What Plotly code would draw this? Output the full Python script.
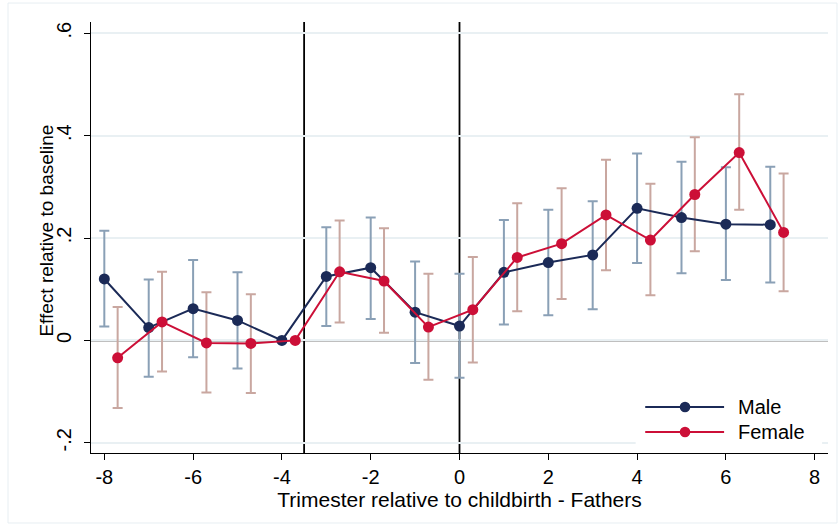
import plotly.graph_objects as go

# Event-study estimates by trimester relative to childbirth (fathers)
male_x = [-8, -7, -6, -5, -4, -3, -2, -1, 0, 1, 2, 3, 4, 5, 6, 7]
male_est = [0.120, 0.025, 0.062, 0.039, 0.0, 0.125, 0.142, 0.055, 0.028,
            0.133, 0.152, 0.167, 0.258, 0.240, 0.227, 0.226]
male_lo = [0.027, -0.071, -0.033, -0.055, None, 0.028, 0.042, -0.044, -0.073,
           0.031, 0.049, 0.061, 0.151, 0.131, 0.118, 0.113]
male_hi = [0.214, 0.119, 0.157, 0.133, None, 0.221, 0.240, 0.154, 0.130,
           0.235, 0.255, 0.272, 0.365, 0.349, 0.338, 0.339]

female_x = [-7.7, -6.7, -5.7, -4.7, -3.7, -2.7, -1.7, -0.7, 0.3,
            1.3, 2.3, 3.3, 4.3, 5.3, 6.3, 7.3]
female_est = [-0.034, 0.036, -0.005, -0.006, 0.0, 0.134, 0.116, 0.026, 0.060,
              0.162, 0.189, 0.245, 0.196, 0.285, 0.367, 0.211]
female_lo = [-0.132, -0.061, -0.102, -0.103, None, 0.035, 0.015, -0.077, -0.043,
             0.057, 0.081, 0.137, 0.088, 0.174, 0.255, 0.096]
female_hi = [0.065, 0.134, 0.094, 0.090, None, 0.234, 0.219, 0.130, 0.163,
             0.268, 0.297, 0.353, 0.306, 0.397, 0.481, 0.326]

x_ticks = [-8, -6, -4, -2, 0, 2, 4, 6, 8]
x_tick_text = ["-8", "-6", "-4", "-2", "0", "2", "4", "6", "8"]
y_ticks = [-0.2, 0, 0.2, 0.4, 0.6]
y_tick_text = ["-.2", "0", ".2", ".4", ".6"]
event_lines_x = [-3.5, 0]
series_names = ["Male", "Female"]
x_title = "Trimester relative to childbirth - Fathers"
y_title = "Effect relative to baseline"

MALE = "#1b2a57"
MALE_CI = "#8aa0b6"
FEMALE = "#cc0f37"
FEMALE_CI = "#c9a7a0"
FONT = "Liberation Sans, Arial, sans-serif"
TICK_SIZE = 20
X_TITLE_SIZE = 21
Y_TITLE_SIZE = 19


def err(est, lo, hi):
    plus = [None if h is None else h - e for e, h in zip(est, hi)]
    minus = [None if l is None else e - l for e, l in zip(est, lo)]
    return plus, minus


fig = go.Figure()

# confidence-interval caps first, so the connected estimates sit on top
for xs, est, lo, hi, col in [(male_x, male_est, male_lo, male_hi, MALE_CI),
                             (female_x, female_est, female_lo, female_hi, FEMALE_CI)]:
    plus, minus = err(est, lo, hi)
    fig.add_trace(go.Scatter(
        x=xs, y=est, mode="markers",
        marker=dict(size=1, opacity=0),
        error_y=dict(type="data", symmetric=False, array=plus, arrayminus=minus,
                     color=col, thickness=2, width=5),
        showlegend=False, hoverinfo="skip"))

for xs, est, col, name in [(male_x, male_est, MALE, series_names[0]),
                           (female_x, female_est, FEMALE, series_names[1])]:
    fig.add_trace(go.Scatter(
        x=xs, y=est, mode="lines+markers", name=name,
        line=dict(color=col, width=2),
        marker=dict(color=col, size=11),
        showlegend=False))

shapes = []
# reference lines: zero effect and event markers
shapes.append(dict(type="line", xref="paper", yref="y", x0=0, x1=1, y0=0, y1=0,
                   line=dict(color="black", width=1.6), layer="below"))
for xv in event_lines_x:
    shapes.append(dict(type="line", xref="x", yref="paper", x0=xv, x1=xv, y0=0, y1=1,
                       line=dict(color="black", width=1.8), layer="below"))

# faint outer frame of the graph region
shapes.append(dict(type="rect", xref="paper", yref="paper",
                   x0=-0.1126, x1=1.0122, y0=-0.1624, y1=1.044,
                   line=dict(color="#e7eef2", width=1), layer="below"))

# legend box drawn inside the plot area
shapes.append(dict(type="rect", xref="paper", yref="paper",
                   x0=0.739, x1=0.992, y0=0.015, y1=0.14,
                   fillcolor="white", line=dict(width=0), layer="above"))
annotations = []
for yy, col, name in [(0.1067, MALE, series_names[0]), (0.0487, FEMALE, series_names[1])]:
    shapes.append(dict(type="line", xref="paper", yref="paper",
                       x0=0.752, x1=0.859, y0=yy, y1=yy,
                       line=dict(color=col, width=2), layer="above"))
    shapes.append(dict(type="circle", xref="paper", yref="paper",
                       x0=0.806 - 0.0072, x1=0.806 + 0.0072,
                       y0=yy - 0.0123, y1=yy + 0.0123,
                       fillcolor=col, line=dict(color=col, width=0), layer="above"))
    annotations.append(dict(xref="paper", yref="paper", x=0.875, y=yy,
                            xanchor="left", yanchor="middle", showarrow=False,
                            text=name, font=dict(family=FONT, size=TICK_SIZE, color="black")))

# vertical axis title, set slightly above the plot's mid-height
annotations.append(dict(xref="paper", yref="paper", x=-0.0597, y=0.516,
                        xanchor="center", yanchor="middle", showarrow=False,
                        textangle=-90, text=y_title,
                        font=dict(family=FONT, size=Y_TITLE_SIZE, color="black")))

fig.update_layout(
    width=838, height=525,
    margin=dict(l=91, r=10, t=22, b=72),
    paper_bgcolor="white", plot_bgcolor="white",
    font=dict(family=FONT, size=TICK_SIZE, color="black"),
    shapes=shapes, annotations=annotations,
    showlegend=False,
)

fig.update_xaxes(
    range=[-8.3, 8.3], tickvals=x_ticks, ticktext=x_tick_text,
    ticks="outside", ticklen=6,
    tickwidth=1.3, tickcolor="black", showline=True, linecolor="black", linewidth=1.3,
    showgrid=False, zeroline=False,
    tickfont=dict(family=FONT, size=TICK_SIZE),
    title=dict(text=x_title, font=dict(family=FONT, size=X_TITLE_SIZE), standoff=0),
)
fig.update_yaxes(
    range=[-0.22, 0.622], tickvals=y_ticks, ticktext=y_tick_text, tickangle=-90,
    ticks="outside", ticklen=6, tickwidth=1.3, tickcolor="black",
    showline=True, linecolor="black", linewidth=1.3,
    showgrid=True, gridcolor="#e9f0f3", gridwidth=1.5, zeroline=False,
    tickfont=dict(family=FONT, size=TICK_SIZE), ticklabelstandoff=5,
)

fig.write_html("out.html")
